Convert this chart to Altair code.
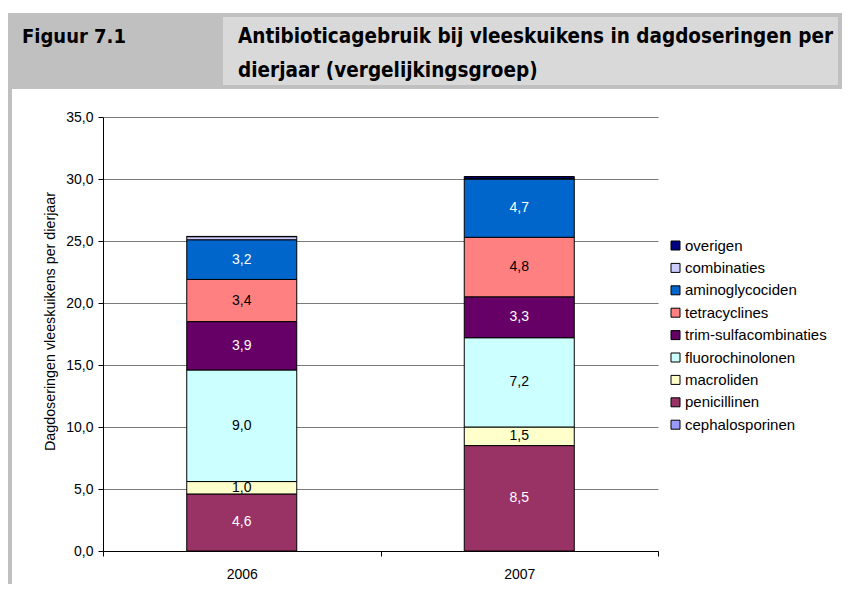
import altair as alt
import pandas as pd

years = ["2006", "2007"]
categories = ["cephalosporinen", "penicillinen", "macroliden", "fluorochinolonen",
              "trim-sulfacombinaties", "tetracyclines", "aminoglycociden",
              "combinaties", "overigen"]
colors = ["#9999FF", "#993366", "#FFFFCC", "#CCFFFF", "#660066", "#FF8080",
          "#0066CC", "#CCCCFF", "#000080"]
values_2006 = [0.0, 4.6, 1.0, 9.0, 3.9, 3.4, 3.2, 0.25, 0.02]
values_2007 = [0.0, 8.5, 1.5, 7.2, 3.3, 4.8, 4.7, 0.05, 0.15]
label_colors = ["black", "white", "black", "black", "white", "black", "white", "black", "white"]
y_ticks = [0, 5, 10, 15, 20, 25, 30, 35]

rows = []
for year, vals in zip(years, [values_2006, values_2007]):
    base = 0.0
    for i, (cat, v) in enumerate(zip(categories, vals)):
        lab = ("%.1f" % v).replace(".", ",") if v >= 0.9 else ""
        rows.append({"year": year, "cat": cat, "value": v, "lo": base, "hi": base + v,
                     "mid": base + v / 2, "label": lab, "tcol": label_colors[i]})
        base += v
df = pd.DataFrame(rows)
bars_df = df[df["value"] > 0]
white_df = df[(df["label"] != "") & (df["tcol"] == "white")]
black_df = df[(df["label"] != "") & (df["tcol"] == "black")]

legend_order = categories[::-1]
legend_colors = colors[::-1]

BODY = "Liberation Sans"
HEAD = "Liberation Sans Narrow, DejaVu Sans Condensed, Roboto Condensed, Arial Narrow, sans-serif"

one = pd.DataFrame({"a": [0]})

band = alt.Chart(one).mark_rect(color="#C0C0C0").encode(
    x=alt.value(-95), x2=alt.value(739), y=alt.value(-104), y2=alt.value(-28))
strip = alt.Chart(one).mark_rect(color="#C0C0C0").encode(
    x=alt.value(-95), x2=alt.value(-91), y=alt.value(-28), y2=alt.value(467))
light = alt.Chart(one).mark_rect(color="#D9D9D9").encode(
    x=alt.value(120), x2=alt.value(735), y=alt.value(-100), y2=alt.value(-32))
fig_txt = alt.Chart(one).mark_text(align="left", baseline="middle", font=HEAD,
                                   fontSize=20, fontWeight="bold", color="black").encode(
    x=alt.value(-81), y=alt.value(-80), text=alt.value("Figuur 7.1"))
t1 = alt.Chart(one).mark_text(align="left", baseline="middle", font=HEAD,
                              fontSize=20.5, fontWeight="bold", color="black").encode(
    x=alt.value(135), y=alt.value(-80),
    text=alt.value("Antibioticagebruik bij vleeskuikens in dagdoseringen per"))
t2 = alt.Chart(one).mark_text(align="left", baseline="middle", font=HEAD,
                              fontSize=20.5, fontWeight="bold", color="black").encode(
    x=alt.value(135), y=alt.value(-46), text=alt.value("dierjaar (vergelijkingsgroep)"))

x_enc = alt.X("year:N", sort=years, scale=alt.Scale(paddingInner=0, paddingOuter=0),
              axis=alt.Axis(title=None, labelAngle=0, tickBand="extent", tickSize=5,
                            labelPadding=11, labelFontSize=14, labelFont=BODY,
                            labelColor="black", domainColor="black", tickColor="black",
                            grid=False))
y_scale = alt.Scale(domain=[0, 35], nice=False)

bars = alt.Chart(bars_df).mark_bar(size=110, stroke="black", strokeWidth=1).encode(
    x=x_enc,
    y=alt.Y("lo:Q", scale=y_scale,
            axis=alt.Axis(values=y_ticks,
                          labelExpr="replace(format(datum.value, '.1f'), '.', ',')",
                          title="Dagdoseringen vleeskuikens per dierjaar",
                          titleFontWeight="normal", titleFontSize=14.3, titleFont=BODY,
                          titleColor="black", labelFontSize=14, labelFont=BODY,
                          labelColor="black", tickSize=5, tickColor="black",
                          domainColor="black", gridColor="#7a7a7a", gridWidth=1,
                          labelPadding=5, titleX=-53, titleY=204, titleAlign="center",
                          titleBaseline="middle")),
    y2="hi:Q",
    color=alt.Color("cat:N", scale=alt.Scale(domain=legend_order, range=legend_colors),
                    legend=alt.Legend(title=None, orient="none", legendX=565, legendY=121,
                                      symbolType="square", symbolSize=81,
                                      symbolStrokeColor="black", symbolStrokeWidth=1,
                                      labelFontSize=15, labelFont=BODY, labelColor="black",
                                      rowPadding=6.4, labelOffset=2, padding=0)),
)

lab_w = alt.Chart(white_df).mark_text(fontSize=14, font=BODY, color="white",
                                      baseline="middle").encode(
    x=alt.X("year:N", sort=years), y=alt.Y("mid:Q", scale=y_scale), text="label:N")
lab_b = alt.Chart(black_df).mark_text(fontSize=14, font=BODY, color="black",
                                      baseline="middle").encode(
    x=alt.X("year:N", sort=years), y=alt.Y("mid:Q", scale=y_scale), text="label:N")

chart = alt.layer(band, strip, light, fig_txt, t1, t2, bars, lab_w, lab_b).properties(
    width=555, height=434,
    autosize=alt.AutoSizeParams(type="none"),
    padding={"left": 95, "top": 109, "right": 184, "bottom": 33},
    background="white",
).configure_view(stroke=None)

chart.save("out.html", embed_options={"renderer": "svg", "actions": False})
